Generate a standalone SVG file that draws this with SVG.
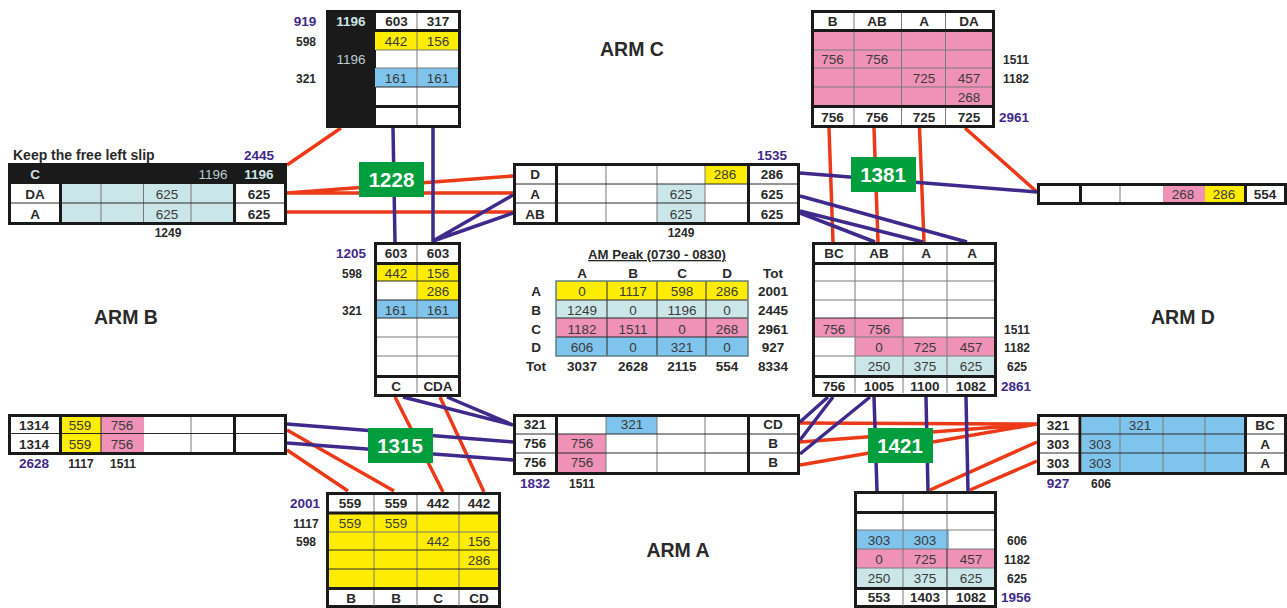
<svg xmlns="http://www.w3.org/2000/svg" width="1287" height="608" viewBox="0 0 1287 608">
<style>
text{font-family:"Liberation Sans",Arial,sans-serif;text-anchor:middle;fill:#2a2a2a}
.b{font-size:13.5px;font-weight:700}
.r{font-size:13.5px;fill:#3a3a3a}
.s{font-size:12px;font-weight:700}
.p{font-size:13.5px;font-weight:700;fill:#3f2a8c}
.lb{fill:#cfe3e6}
.lr{fill:#bcccd0}
.arm{font-size:19.500px;font-weight:700}
.big{font-size:20.500px;font-weight:700;fill:#fff}
.o{fill:#fff;stroke:#1a1a1a;stroke-width:3}
.k{stroke:#1a1a1a;stroke-width:3;fill:none}
.t{stroke:#2a2a2a;stroke-width:1;fill:none}
.g{stroke:#7a7a7a;stroke-width:1;fill:none}
.y{fill:#ffed00}.c{fill:#f092b8}.u{fill:#7fc4ed}.e{fill:#cbe6e8}.d{fill:#1a1a1a}
.red{stroke:#ec3a18;stroke-width:3.5;fill:none}
.pur{stroke:#3f2a8c;stroke-width:3.5;fill:none}
.gb{fill:#009e3d}
</style>
<g id="connectors">
<path class="red" d="M341 128L287 165M287 193L513 176M287 193H513M287 212H513M829 128L833 242M874 128L878 242M919.500 128L924 242M965 128L1037 192M395 397L443 492M440 397L484 492M287 430L394 491M287 450L348 491M800 423L1037 424M800 442L1037 424M800 465L1037 424M1037 442L930 490M1037 461L970 490"/>
<path class="pur" d="M393 128L395 242M433 128V242M433 241L513 195M433 241L513 213M800 173L1037 192M800 196L967 242M800 211L923 242M800 213L875 242M403 397L513 425M447 397L513 425M287 424L513 442M287 443L513 460M828 397L800 422M833 397L800 440M870 397L800 454M874 397L877 491M926 397L928 491M966 397L968 491"/>
</g>
<g id="table-arm-c-in">
<rect class="o" x="327.500" y="11.500" width="132" height="115"/>
<rect class="d" x="326" y="10" width="50" height="118"/>
<rect class="y" x="375" y="32" width="83" height="18"/>
<rect class="u" x="375" y="68" width="83" height="19"/>
<path class="g" d="M417 13V125M376 50H458M376 68H458"/><path class="t" d="M376 87H458"/>
<path class="k" d="M376 30.500H458M376 106.500H458"/>
<text class="b lb" x="351" y="26">1196</text><text class="r lr" x="351" y="64">1196</text>
<text class="b" x="396.500" y="26">603</text><text class="b" x="438" y="26">317</text>
<text class="r" x="396" y="46">442</text><text class="r" x="438" y="46">156</text>
<text class="r" x="396" y="83">161</text><text class="r" x="438" y="83">161</text>
<text class="p" x="305" y="26">919</text><text class="s" x="306" y="46">598</text><text class="s" x="306" y="83">321</text>
</g>
<g id="table-arm-c-out">
<rect class="o" x="812.500" y="11.500" width="181" height="115"/>
<rect class="c" x="814" y="32" width="178" height="75"/>
<path class="g" d="M854 13V125M901.500 13V125M945.500 13V125M814 50H992M814 68H992M814 87H992"/>
<path class="k" d="M814 30.500H992M814 106.500H992"/>
<text class="b" x="832.500" y="26">B</text><text class="b" x="877" y="26">AB</text><text class="b" x="924" y="26">A</text><text class="b" x="969" y="26">DA</text>
<text class="r" x="832.500" y="64">756</text><text class="r" x="877" y="64">756</text>
<text class="r" x="924" y="83">725</text><text class="r" x="969" y="83">457</text><text class="r" x="969" y="102">268</text>
<text class="b" x="832.500" y="121.500">756</text><text class="b" x="877" y="121.500">756</text><text class="b" x="924" y="121.500">725</text><text class="b" x="969" y="121.500">725</text>
<text class="s" x="1016" y="64">1511</text><text class="s" x="1016" y="83">1182</text><text class="p" x="1014" y="121.500">2961</text>
</g>
<g id="table-arm-b-in">
<rect class="o" x="9.500" y="164.500" width="276" height="59"/>
<rect class="d" x="8" y="163" width="279" height="21"/>
<rect class="e" x="62" y="184" width="171" height="38"/>
<path class="g" d="M101 184V222M143.500 184V222M191 184V222"/><path class="t" d="M11 203H284"/>
<path class="k" d="M60.500 184V223M234.500 184V223"/>
<text class="s" x="13" y="160" style="text-anchor:start;font-size:14px">Keep the free left slip</text>
<text class="p" x="259" y="160">2445</text>
<text class="b lb" x="35" y="179">C</text><text class="r lr" x="213" y="179">1196</text><text class="b lb" x="259" y="179">1196</text>
<text class="b" x="35" y="199">DA</text><text class="r" x="167" y="199">625</text><text class="b" x="259" y="199">625</text>
<text class="b" x="35" y="219">A</text><text class="r" x="167" y="219">625</text><text class="b" x="259" y="219">625</text>
<text class="s" x="168" y="237">1249</text>
</g>
<g id="table-arm-b-out">
<rect class="o" x="514.500" y="164.500" width="284" height="59"/>
<rect class="y" x="705" y="166" width="42" height="18"/>
<rect class="e" x="657" y="184" width="48" height="38"/>
<path class="g" d="M606 166V222M657 166V222M705 166V222"/><path class="t" d="M516 184H797M516 203H797"/>
<path class="k" d="M556.500 165V223M748.500 165V223"/>
<text class="p" x="772" y="160">1535</text>
<text class="b" x="535" y="179">D</text><text class="r" x="725" y="179">286</text><text class="b" x="772" y="179">286</text>
<text class="b" x="535" y="199">A</text><text class="r" x="681" y="199">625</text><text class="b" x="772" y="199">625</text>
<text class="b" x="535" y="219">AB</text><text class="r" x="681" y="219">625</text><text class="b" x="772" y="219">625</text>
<text class="s" x="681" y="237">1249</text>
</g>
<g id="table-arm-d-out">
<rect class="o" x="1038.500" y="184.500" width="247" height="19"/>
<rect class="c" x="1163" y="186" width="42" height="16"/>
<rect class="y" x="1205" y="186" width="39" height="16"/>
<path class="g" d="M1120 186V202"/>
<path class="k" d="M1080.500 186V202M1245.500 186V202"/>
<text class="r" x="1183" y="199">268</text><text class="r" x="1224" y="199">286</text><text class="b" x="1265" y="199">554</text>
</g>
<g id="table-mid-left">
<rect class="o" x="375.500" y="243.500" width="84" height="152"/>
<rect class="y" x="377" y="265" width="81" height="16"/>
<rect class="y" x="417" y="281" width="41" height="19"/>
<rect class="u" x="377" y="300" width="81" height="18"/>
<path class="g" d="M417 245V393M377 337H458M377 356H458"/><path class="t" d="M377 281H458M377 300H458M377 318H458"/>
<path class="k" d="M377 263.500H458M377 376.500H458"/>
<text class="b" x="396" y="258">603</text><text class="b" x="438" y="258">603</text>
<text class="r" x="396" y="278">442</text><text class="r" x="438" y="278">156</text><text class="r" x="438" y="296">286</text>
<text class="r" x="396" y="315">161</text><text class="r" x="438" y="315">161</text>
<text class="b" x="396" y="391">C</text><text class="b" x="438" y="391">CDA</text>
<text class="p" x="351" y="258">1205</text><text class="s" x="352" y="278">598</text><text class="s" x="352" y="315">321</text>
</g>
<g id="table-mid-right">
<rect class="o" x="813.500" y="243.500" width="182" height="152"/>
<rect class="c" x="815" y="318" width="88" height="19"/>
<rect class="c" x="855" y="337" width="139" height="19"/>
<rect class="e" x="855" y="356" width="139" height="19"/>
<path class="g" d="M855 245V393M903 245V393M947 245V393M815 281H994M815 300H994M815 337H994M815 356H994"/><path class="t" d="M815 318H994"/>
<path class="k" d="M815 263.500H994M815 376.500H994"/>
<text class="b" x="834" y="258">BC</text><text class="b" x="879" y="258">AB</text><text class="b" x="926" y="258">A</text><text class="b" x="972" y="258">A</text>
<text class="r" x="834" y="334">756</text><text class="r" x="879" y="334">756</text>
<text class="r" x="879" y="352">0</text><text class="r" x="925" y="352">725</text><text class="r" x="971" y="352">457</text>
<text class="r" x="879" y="371">250</text><text class="r" x="925" y="371">375</text><text class="r" x="971" y="371">625</text>
<text class="b" x="834" y="391">756</text><text class="b" x="879" y="391">1005</text><text class="b" x="925" y="391">1100</text><text class="b" x="971" y="391">1082</text>
<text class="s" x="1017" y="334">1511</text><text class="s" x="1017" y="352">1182</text><text class="s" x="1017" y="371">625</text><text class="p" x="1016" y="391">2861</text>
</g>
<g id="am-peak-table">
<text class="s" x="657" y="259" style="text-decoration:underline;font-size:13.200px">AM Peak (0730 - 0830)</text>
<rect class="y" x="556" y="281" width="192" height="19"/>
<rect class="e" x="556" y="300" width="192" height="18"/>
<rect class="c" x="556" y="318" width="192" height="19"/>
<rect class="u" x="556" y="337" width="192" height="19"/>
<path class="t" d="M607 281V356M657 281V356M706 281V356M556 300H748M556 318H748M556 337H748"/>
<rect x="556" y="281" width="192" height="75" fill="none" stroke="#5f7f85" stroke-width="1.500"/>
<text class="b" x="582" y="278">A</text><text class="b" x="633" y="278">B</text><text class="b" x="682" y="278">C</text><text class="b" x="727" y="278">D</text><text class="b" x="773" y="278">Tot</text>
<text class="b" x="536" y="296">A</text><text class="r" x="582" y="296">0</text><text class="r" x="633" y="296">1117</text><text class="r" x="682" y="296">598</text><text class="r" x="727" y="296">286</text><text class="b" x="773" y="296">2001</text>
<text class="b" x="536" y="315">B</text><text class="r" x="582" y="315">1249</text><text class="r" x="633" y="315">0</text><text class="r" x="682" y="315">1196</text><text class="r" x="727" y="315">0</text><text class="b" x="773" y="315">2445</text>
<text class="b" x="536" y="334">C</text><text class="r" x="582" y="334">1182</text><text class="r" x="633" y="334">1511</text><text class="r" x="682" y="334">0</text><text class="r" x="727" y="334">268</text><text class="b" x="773" y="334">2961</text>
<text class="b" x="536" y="352">D</text><text class="r" x="582" y="352">606</text><text class="r" x="633" y="352">0</text><text class="r" x="682" y="352">321</text><text class="r" x="727" y="352">0</text><text class="b" x="773" y="352">927</text>
<text class="b" x="536" y="371">Tot</text><text class="b" x="582" y="371">3037</text><text class="b" x="633" y="371">2628</text><text class="b" x="682" y="371">2115</text><text class="b" x="727" y="371">554</text><text class="b" x="773" y="371">8334</text>
</g>
<g id="table-arm-b-lower">
<rect class="o" x="9.500" y="415.500" width="276" height="38"/>
<rect class="y" x="62" y="417" width="39" height="35"/>
<rect class="c" x="101" y="417" width="43" height="35"/>
<path class="g" d="M191 417V452"/><path class="t" d="M11 433.500H284M101 417V452"/>
<path class="k" d="M60.500 416V453M234.500 416V453"/>
<text class="b" x="34" y="430">1314</text><text class="r" x="80" y="430">559</text><text class="r" x="122" y="430">756</text>
<text class="b" x="34" y="449">1314</text><text class="r" x="80" y="449">559</text><text class="r" x="122" y="449">756</text>
<text class="p" x="34" y="468">2628</text><text class="s" x="81" y="468">1117</text><text class="s" x="123" y="468">1511</text>
</g>
<g id="table-arm-a-in">
<rect class="o" x="514.500" y="415.500" width="284" height="58"/>
<rect class="u" x="606" y="417" width="51" height="17"/>
<rect class="c" x="558" y="434" width="48" height="38"/>
<path class="g" d="M606 417V472M657 417V472M705 417V472"/><path class="t" d="M516 434H797M516 453H797"/>
<path class="k" d="M556.500 416V473M748.500 416V473"/>
<text class="b" x="535" y="429">321</text><text class="r" x="632" y="429">321</text><text class="b" x="773" y="429">CD</text>
<text class="b" x="535" y="448">756</text><text class="r" x="582" y="448">756</text><text class="b" x="773" y="448">B</text>
<text class="b" x="535" y="467">756</text><text class="r" x="582" y="467">756</text><text class="b" x="773" y="467">B</text>
<text class="p" x="535" y="488">1832</text><text class="s" x="582" y="488">1511</text>
</g>
<g id="table-arm-d-in">
<rect class="o" x="1038.500" y="415.500" width="247" height="58"/>
<rect class="u" x="1082" y="417" width="162" height="55"/>
<path class="g" d="M1120 417V472M1163 417V472M1205 417V472"/><path class="t" d="M1040 434H1284M1040 453H1284"/>
<path class="k" d="M1080 416V473M1245.500 416V473"/>
<text class="b" x="1058" y="430">321</text><text class="r" x="1140" y="430">321</text><text class="b" x="1265" y="430">BC</text>
<text class="b" x="1058" y="449">303</text><text class="r" x="1100" y="449">303</text><text class="b" x="1265" y="449">A</text>
<text class="b" x="1058" y="468">303</text><text class="r" x="1100" y="468">303</text><text class="b" x="1265" y="468">A</text>
<text class="p" x="1058" y="488">927</text><text class="s" x="1101" y="488">606</text>
</g>
<g id="table-arm-a-out">
<rect class="o" x="327.500" y="493.500" width="172" height="113"/>
<rect class="y" x="329" y="514" width="169" height="73"/>
<path class="g" d="M374 495V606M417 495V606M459 495V606M329 532H498"/><path class="t" d="M329 550H498M329 569H498"/>
<path class="k" d="M329 513H498M329 588.500H498"/>
<text class="b" x="350" y="508">559</text><text class="b" x="396" y="508">559</text><text class="b" x="438" y="508">442</text><text class="b" x="479" y="508">442</text>
<text class="r" x="350" y="528">559</text><text class="r" x="396" y="528">559</text>
<text class="r" x="438" y="546">442</text><text class="r" x="479" y="546">156</text><text class="r" x="479" y="565">286</text>
<text class="b" x="351" y="603">B</text><text class="b" x="396" y="603">B</text><text class="b" x="438" y="603">C</text><text class="b" x="479" y="603">CD</text>
<text class="p" x="305" y="508">2001</text><text class="s" x="306" y="528">1117</text><text class="s" x="306" y="546">598</text>
</g>
<g id="table-arm-d-lower">
<rect class="o" x="855.500" y="492.500" width="140" height="114"/>
<rect class="u" x="857" y="530" width="92" height="19"/>
<rect class="c" x="857" y="549" width="137" height="19"/>
<rect class="e" x="857" y="568" width="137" height="19"/>
<path class="g" d="M903 494V606M947 494V549M857 530H994M857 549H994M857 568H994"/>
<path class="t" d="M947 549V606"/>
<path class="k" d="M857 512.500H994M857 588.500H994"/>
<text class="r" x="879" y="545">303</text><text class="r" x="925" y="545">303</text>
<text class="r" x="879" y="564">0</text><text class="r" x="925" y="564">725</text><text class="r" x="971" y="564">457</text>
<text class="r" x="879" y="583">250</text><text class="r" x="925" y="583">375</text><text class="r" x="971" y="583">625</text>
<text class="b" x="879" y="602">553</text><text class="b" x="925" y="602">1403</text><text class="b" x="971" y="602">1082</text>
<text class="s" x="1017" y="545">606</text><text class="s" x="1017" y="564">1182</text><text class="s" x="1017" y="583">625</text><text class="p" x="1016" y="602">1956</text>
</g>
<g id="arm-labels">
<text class="arm" x="632" y="56">ARM C</text><text class="arm" x="126" y="324">ARM B</text><text class="arm" x="1183" y="324">ARM D</text><text class="arm" x="678" y="557">ARM A</text>
</g>
<g id="badge-1228"><rect class="gb" x="359" y="162" width="65" height="35"/><text class="big" x="391.500" y="187">1228</text></g>
<g id="badge-1381"><rect class="gb" x="851" y="157" width="65" height="35"/><text class="big" x="883" y="182">1381</text></g>
<g id="badge-1315"><rect class="gb" x="368" y="428" width="65" height="35"/><text class="big" x="400" y="453">1315</text></g>
<g id="badge-1421"><rect class="gb" x="868" y="428" width="65" height="35"/><text class="big" x="900" y="453">1421</text></g>
</svg>
